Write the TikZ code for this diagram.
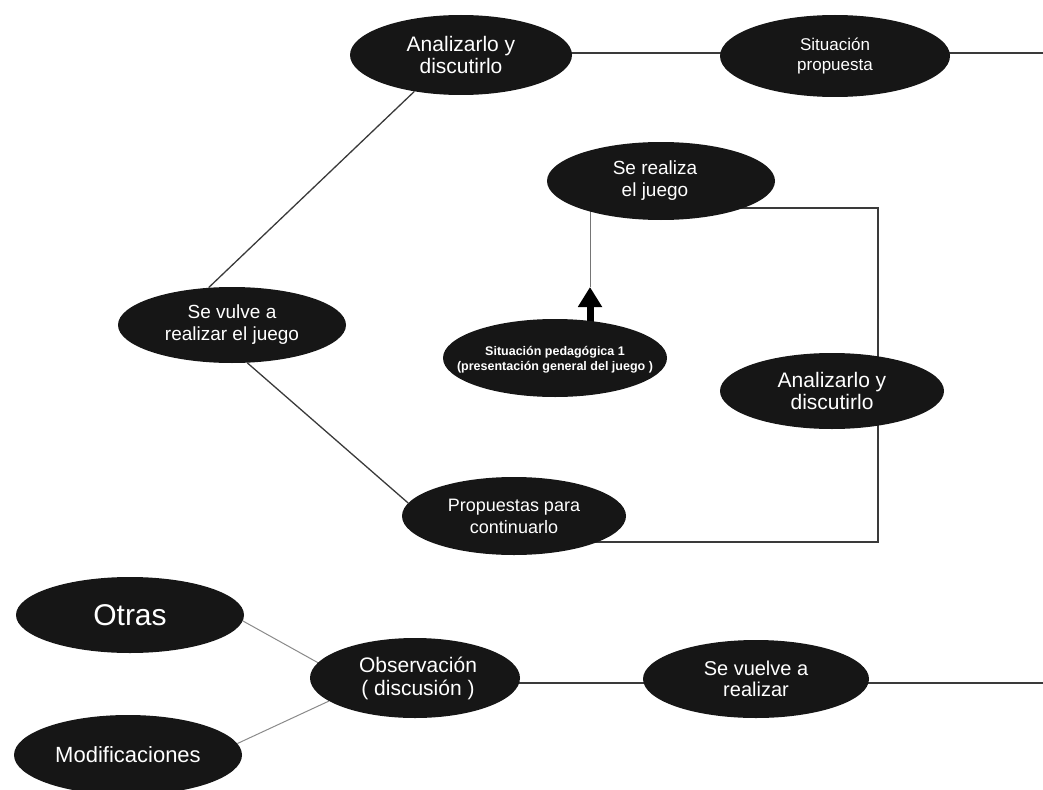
\documentclass[tikz,border=0pt]{standalone}
\usepackage{fontspec}
\setmainfont{Liberation Sans}
\usetikzlibrary{shapes.geometric,arrows.meta,backgrounds}
\definecolor{ellfill}{HTML}{161616}
\definecolor{linecol}{HTML}{3A3A3A}
\definecolor{lightline}{HTML}{8A8A8A}
\begin{document}
\begin{tikzpicture}[x=1pt,y=-1pt,
  ell/.style={ellipse,fill=ellfill,draw=none,inner sep=0pt},
  lbl/.style={text=white,align=center,inner sep=0pt},
  conn/.style={draw=linecol,line width=1.3pt},
  lconn/.style={draw=lightline,line width=1pt},
  bigarrow/.style={draw=black,line width=7pt,-{Triangle[width=23pt,length=20pt]}}]
\useasboundingbox (0,0) rectangle (1043,789);

% ellipses
\node[ell,minimum width=222pt,minimum height=80pt] (at) at (461,55) {};
\node[lbl,font=\fontsize{21}{22}\selectfont] (att) at (at.center) {Analizarlo y\\discutirlo};

\node[ell,minimum width=230pt,minimum height=82pt] (sit) at (835,56) {};
\node[lbl,font=\fontsize{17}{20}\selectfont] (sitt) at (sit.center) {Situación\\propuesta};

\node[ell,minimum width=228pt,minimum height=78pt] (sr) at (661,181) {};
\node[lbl,font=\fontsize{19}{22}\selectfont] (srt) at ([xshift=-6pt]sr.center) {Se realiza\\el juego};

\node[ell,minimum width=228pt,minimum height=76pt] (sv) at (232,325) {};
\node[lbl,font=\fontsize{19}{22}\selectfont] (svt) at (sv.center) {Se vulve a\\realizar el juego};

\node[ell,minimum width=224pt,minimum height=78pt] (sp) at (555,358) {};
\node[lbl,font=\bfseries\fontsize{12.5}{15}\selectfont] (spt) at ([yshift=-2pt]sp.center) {Situación pedagógica 1\\(presentación general del juego )};

\node[ell,minimum width=224pt,minimum height=76pt] (am) at (832,391) {};
\node[lbl,font=\fontsize{21}{22}\selectfont] (amt) at (am.center) {Analizarlo y\\discutirlo};

\node[ell,minimum width=224pt,minimum height=78pt] (pr) at (514,516) {};
\node[lbl,font=\fontsize{18}{22}\selectfont] (prt) at (pr.center) {Propuestas para\\continuarlo};

\node[ell,minimum width=228pt,minimum height=76pt] (ot) at (130,615) {};
\node[lbl,font=\fontsize{30}{34}\selectfont] (ott) at (ot.center) {Otras};

\node[ell,minimum width=228pt,minimum height=80pt] (mo) at (128,755) {};
\node[lbl,font=\fontsize{22}{26}\selectfont] (mot) at (mo.center) {Modificaciones};

\node[ell,minimum width=210pt,minimum height=80pt] (ob) at (415,678) {};
\node[lbl,font=\fontsize{21}{23}\selectfont] (obt) at ([xshift=3pt]ob.center) {Observación\\( discusión )};

\node[ell,minimum width=226pt,minimum height=78pt] (vr) at (756,679) {};
\node[lbl,font=\fontsize{20}{21}\selectfont] (vrt) at (vr.center) {Se vuelve a\\realizar};

% helper coordinates
\coordinate (e1) at (1043,53);
\coordinate (e2) at (1043,683);
\coordinate (c1) at (878,208);
\coordinate (c2) at (878,542);
\coordinate (tip) at (590,287);

\begin{scope}[on background layer]
  \draw[conn] (at |- e1) -- (e1);
  \draw[conn] (ob |- e2) -- (e2);
  \draw[conn] (sv.122) -- (at.218);
  \draw[conn] (sv.-68) -- (pr.173);
  \draw[conn] (sr |- c1) -- (c1) -- (c2) -- (pr |- c2);
  \draw[conn,line width=1pt,draw=linecol!70] (tip) -- (tip |- sr);
  \draw[bigarrow] (tip |- sp) -- (tip);
  \draw[lconn] (ot.-3) -- (ob.171);
  \draw[lconn] (mo.6) -- (ob.195);
\end{scope}
\end{tikzpicture}
\end{document}
